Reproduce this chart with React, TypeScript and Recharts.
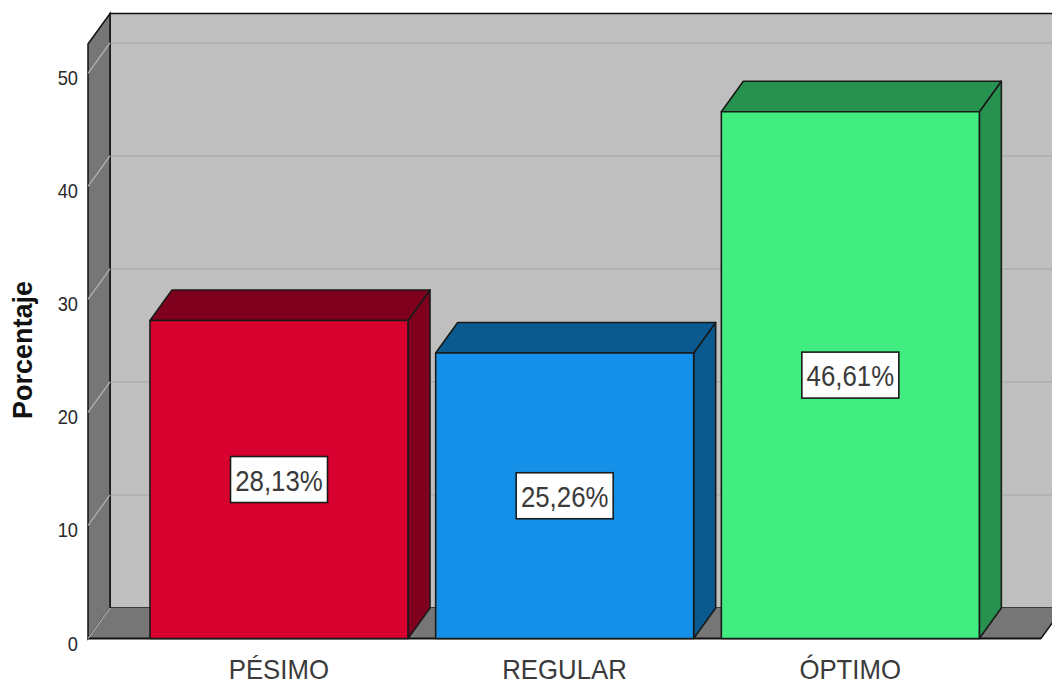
import React from 'react';
import { BarChart, Bar, XAxis, YAxis, Cell, LabelList, ReferenceArea } from 'recharts';

const categories = ['PÉSIMO', 'REGULAR', 'ÓPTIMO'];
const percentages = [28.13, 25.26, 46.61];
const yTicks = [0, 10, 20, 30, 40, 50];
const frontColors = ['#d7002f', '#1490e8', '#41ec80'];
const shadeColors = ['#7f001c', '#0a5a90', '#27924f'];

const Y_MAX = 52.6;
const DEPTH_X = 22;
const DEPTH_Y = 30.5;
const AXIS_PAD = 48;
const FONT = '"Liberation Sans", Arial, sans-serif';

const data = categories.map((name, i) => ({ name, value: percentages[i] }));

const pts = (list: number[][]) => list.map((p) => p.join(',')).join(' ');

// back wall, left wall and floor of the 3D box
const ChartBox = ({ x: bandLeft, y, width: bandWidth, height }: any) => {
  // the x axis padding shrinks the area, so widen it back to the full plot
  const x = bandLeft - AXIS_PAD;
  const width = bandWidth + AXIS_PAD * 2;
  const right = x + width;
  const bottom = y + height;
  const levels = yTicks.slice(1);
  const toY = (v: number) => bottom - (v / Y_MAX) * height;
  return (
    <g>
      <rect x={x + DEPTH_X} y={y - DEPTH_Y} width={width} height={height} fill="#bfbfbf" stroke="#111" strokeWidth={1.5} />
      {levels.map((v) => (
        <line key={v} x1={x + DEPTH_X} x2={right + DEPTH_X} y1={toY(v) - DEPTH_Y} y2={toY(v) - DEPTH_Y} stroke="#b2b2b2" strokeWidth={2} />
      ))}
      <polygon
        points={pts([[x, y], [x + DEPTH_X, y - DEPTH_Y], [x + DEPTH_X, bottom - DEPTH_Y], [x, bottom]])}
        fill="#767676"
        stroke="#111"
        strokeWidth={1.5}
      />
      <polygon
        points={pts([[x, bottom], [x + DEPTH_X, bottom - DEPTH_Y], [right + DEPTH_X, bottom - DEPTH_Y], [right, bottom]])}
        fill="#767676"
      />
      <line x1={x} x2={right} y1={bottom} y2={bottom} stroke="#111" strokeWidth={2} />
      <line x1={right} x2={right + DEPTH_X} y1={bottom} y2={bottom - DEPTH_Y} stroke="#111" strokeWidth={1.5} />
      {yTicks.map((v) => (
        <line key={v} x1={x} x2={x + DEPTH_X} y1={toY(v)} y2={toY(v) - DEPTH_Y} stroke="#b5b5b5" strokeWidth={1.2} />
      ))}
    </g>
  );
};

// box-shaped bar: front face plus shaded top and side
const Bar3D = ({ x, y, width, height, index }: any) => {
  const right = x + width;
  const bottom = y + height;
  const edge = { stroke: '#1a1a1a', strokeWidth: 1.6, strokeLinejoin: 'round' as const };
  return (
    <g>
      <polygon
        points={pts([[right, y], [right + DEPTH_X, y - DEPTH_Y], [right + DEPTH_X, bottom - DEPTH_Y], [right, bottom]])}
        fill={shadeColors[index]}
        {...edge}
      />
      <polygon
        points={pts([[x, y], [x + DEPTH_X, y - DEPTH_Y], [right + DEPTH_X, y - DEPTH_Y], [right, y]])}
        fill={shadeColors[index]}
        {...edge}
      />
      <rect x={x} y={y} width={width} height={height} fill={frontColors[index]} {...edge} />
    </g>
  );
};

const ValueBox = ({ x, y, width, height, value }: any) => {
  const cx = x + width / 2;
  const cy = y + height / 2;
  const text = `${Number(value).toFixed(2).replace('.', ',')}%`;
  return (
    <g>
      <rect x={cx - 48.5} y={cy - 23} width={97} height={46} fill="#fff" stroke="#1a1a1a" strokeWidth={1.6} />
      <text
        transform={`translate(${cx} ${cy + 11}) scale(0.89 1)`}
        textAnchor="middle"
        fontSize={29}
        fontFamily={FONT}
        fill="#3a3a3a"
      >
        {text}
      </text>
    </g>
  );
};

const CategoryTick = ({ x, y, payload }: any) => (
  <text
    transform={`translate(${x} ${y + 32.5}) scale(0.92 1)`}
    textAnchor="middle"
    fontSize={28}
    fontFamily={FONT}
    fill="#3a3a3a"
  >
    {payload.value}
  </text>
);

const ValueTick = ({ x, y, payload }: any) => (
  <text
    transform={`translate(${x - 2} ${y + 12}) scale(0.87 1)`}
    textAnchor="end"
    fontSize={21}
    fontFamily={FONT}
    fill="#2a2a2a"
  >
    {payload.value}
  </text>
);

const YTitle = () => (
  <text
    x={32}
    y={350}
    transform="rotate(-90 32 350)"
    textAnchor="middle"
    fontSize={27}
    fontWeight="bold"
    fontFamily={FONT}
    fill="#111"
  >
    Porcentaje
  </text>
);

export default function App() {
  return (
    <div style={{ position: 'absolute', left: 0, top: 0, width: 1052, height: 681, overflow: 'hidden', background: '#fff' }}>
      <BarChart width={1052} height={681} data={data} margin={{ top: 44, right: 11, bottom: 0, left: 0 }} barSize={258}>
        <XAxis
          dataKey="name"
          axisLine={false}
          tickLine={false}
          height={42.5}
          padding={{ left: AXIS_PAD, right: AXIS_PAD }}
          interval={0}
          tick={<CategoryTick />}
        />
        <YAxis
          type="number"
          domain={[0, Y_MAX]}
          ticks={yTicks}
          width={88}
          axisLine={false}
          tickLine={false}
          interval={0}
          tick={<ValueTick />}
        />
        <ReferenceArea y1={0} y2={Y_MAX} shape={<ChartBox />} fill="none" stroke="none" />
        <Bar dataKey="value" shape={<Bar3D />} isAnimationActive={false}>
          {data.map((d, i) => (
            <Cell key={d.name} fill={frontColors[i]} />
          ))}
          <LabelList dataKey="value" content={<ValueBox />} />
        </Bar>
        <YTitle />
      </BarChart>
    </div>
  );
}
